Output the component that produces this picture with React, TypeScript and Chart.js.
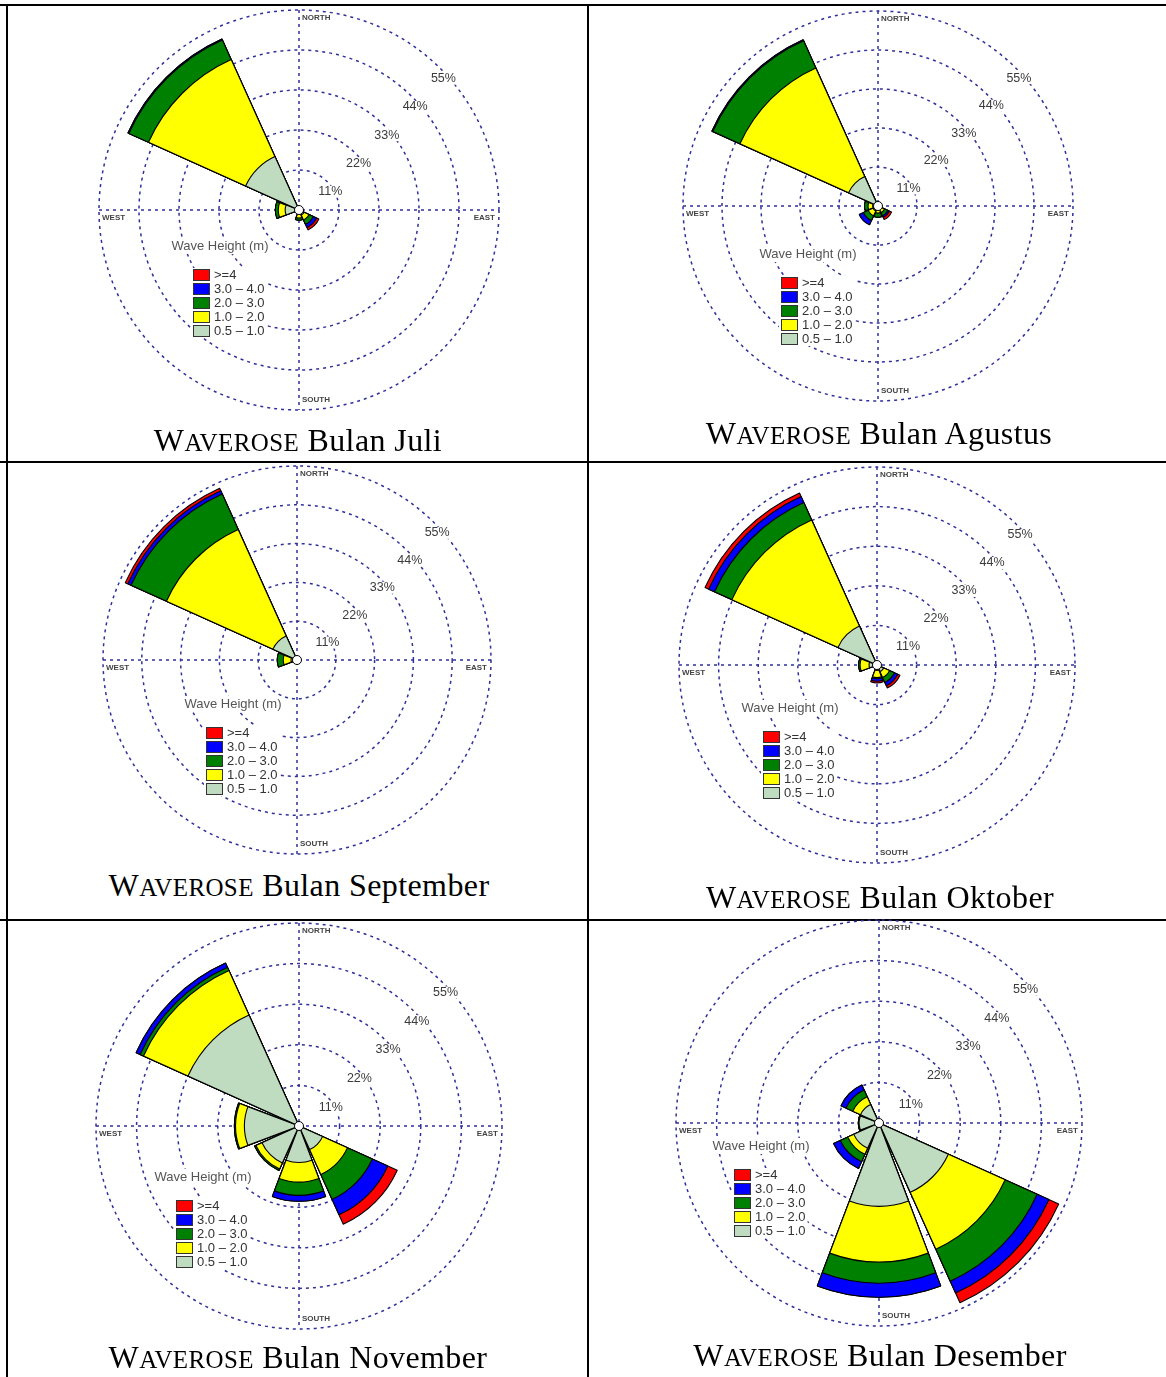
import React, { useEffect, useRef } from "react";
import { Chart, registerables } from "chart.js";

Chart.register(...registerables);

// ---------- data ----------
const DIRECTIONS = ["N", "NE", "E", "SE", "S", "SW", "W", "NW"];
const CLASS_LABELS = ["0.5 – 1.0", "1.0 – 2.0", "2.0 – 3.0", "3.0 – 4.0", ">=4"];
const CLASS_COLORS = ["#c0dcc0", "#ffff00", "#008000", "#0000ff", "#ff0000"];
const RING_TICKS = [11, 22, 33, 44, 55];
const RING_LABELS = ["11%", "22%", "33%", "44%", "55%"];
const COMPASS = ["NORTH", "EAST", "SOUTH", "WEST"];
const LEGEND_TITLE = "Wave Height (m)";

// frequencies (%) per wave-height class, direction order N, NE, E, SE, S, SW, W, NW
const juli05 = [0, 0, 0, 1.5, 1.2, 0, 3.8, 16.1];
const juli12 = [0, 0, 0, 1.5, 1.0, 0, 1.9, 29.3];
const juli23 = [0, 0, 0, 1.3, 0.6, 0, 0.8, 5.9];
const juli34 = [0, 0, 0, 1.0, 0, 0, 0, 0.3];
const juli4 = [0, 0, 0, 0.7, 0, 0, 0, 0];

const agustus05 = [0, 0, 0, 1.0, 1.0, 1.5, 1.5, 9.1];
const agustus12 = [0, 0, 0, 1.0, 1.0, 1.5, 1.3, 33.6];
const agustus23 = [0, 0, 0, 1.0, 1.2, 1.5, 1.0, 8.4];
const agustus34 = [0, 0, 0, 0.5, 0, 1.3, 0, 0.3];
const agustus4 = [0, 0, 0, 0.7, 0, 0, 0, 0];

const september05 = [0, 0, 0, 0, 0, 0, 1.7, 7.5];
const september12 = [0, 0, 0, 0, 0, 0, 2.2, 33.1];
const september23 = [0, 0, 0, 0, 0, 0, 1.7, 11.0];
const september34 = [0, 0, 0, 0, 0, 0, 0, 1.0];
const september4 = [0, 0, 0, 0, 0, 0, 0, 0.8];

const oktober05 = [0, 0, 0, 2.0, 1.5, 0, 2.2, 11.9];
const oktober12 = [0, 0, 0, 1.8, 2.0, 0, 2.5, 32.3];
const oktober23 = [0, 0, 0, 1.5, 0.3, 0, 0.4, 5.3];
const oktober34 = [0, 0, 0, 1.0, 0.7, 0, 0, 1.8];
const oktober4 = [0, 0, 0, 0.7, 0.5, 0, 0, 1.1];

const november05 = [0, 0, 0, 7.0, 9.9, 11.0, 14.8, 33.0];
const november12 = [0, 0, 0, 7.4, 5.3, 1.8, 2.4, 13.2];
const november23 = [0, 0, 0, 7.4, 3.6, 0.4, 0.3, 1.0];
const november34 = [0, 0, 0, 4.6, 1.6, 0, 0, 1.2];
const november4 = [0, 0, 0, 2.8, 0, 0, 0, 0];

const desember05 = [0, 0, 0, 20.6, 22.6, 7.5, 5.4, 5.5];
const desember12 = [0, 0, 0, 16.9, 15.1, 1.8, 0.2, 2.3];
const desember23 = [0, 0, 0, 9.5, 5.7, 2.2, 0, 2.0];
const desember34 = [0, 0, 0, 3.5, 3.8, 2.0, 0, 1.5];
const desember4 = [0, 0, 0, 2.9, 0, 0, 0, 0];

// ---------- layout ----------
type Month = {
  name: string;
  cx: number;
  cy: number;
  R: number;
  wh: [number, number];
  cap: [number, number];
  classes: number[][];
};

const MONTHS: Month[] = [
  { name: "Juli", cx: 299, cy: 210, R: 200, wh: [-79, 36], cap: [298, 440], classes: [juli05, juli12, juli23, juli34, juli4] },
  { name: "Agustus", cx: 878, cy: 206, R: 195, wh: [-70, 48], cap: [879, 433], classes: [agustus05, agustus12, agustus23, agustus34, agustus4] },
  { name: "September", cx: 297, cy: 660, R: 194, wh: [-64, 44], cap: [299, 885], classes: [september05, september12, september23, september34, september4] },
  { name: "Oktober", cx: 877, cy: 665, R: 198, wh: [-87, 43], cap: [880, 897], classes: [oktober05, oktober12, oktober23, oktober34, oktober4] },
  { name: "November", cx: 299, cy: 1126, R: 203, wh: [-96, 51], cap: [298, 1357], classes: [november05, november12, november23, november34, november4] },
  { name: "Desember", cx: 879, cy: 1123, R: 203, wh: [-118, 23], cap: [880, 1355], classes: [desember05, desember12, desember23, desember34, desember4] },
];

const PAD = 10;
const PETAL = 41.5;
const GAP = 3.5;
const GRID = "#30309a";
const DASH = [3, 4];
const SANS = "Arial, 'Liberation Sans', sans-serif";

function makeDecor(wh: [number, number]) {
  return {
    id: "roseDecor",
    beforeDatasetsDraw(chart: any) {
      const s = chart.scales.r;
      const ctx = chart.ctx;
      const cx = s.xCenter;
      const cy = s.yCenter;
      const R = s.drawingArea;
      ctx.save();
      ctx.strokeStyle = GRID;
      ctx.lineWidth = 1.5;
      ctx.setLineDash(DASH);
      ctx.beginPath();
      ctx.moveTo(cx, cy - R);
      ctx.lineTo(cx, cy + R);
      ctx.moveTo(cx - R, cy);
      ctx.lineTo(cx + R, cy);
      ctx.stroke();
      ctx.restore();
    },
    afterDatasetsDraw(chart: any) {
      const s = chart.scales.r;
      const ctx = chart.ctx;
      const cx = s.xCenter;
      const cy = s.yCenter;
      const R = s.drawingArea;
      ctx.save();
      // calm circle
      ctx.beginPath();
      ctx.arc(cx, cy, 4.5, 0, Math.PI * 2);
      ctx.fillStyle = "#fff";
      ctx.fill();
      ctx.lineWidth = 1;
      ctx.strokeStyle = "#000";
      ctx.stroke();

      // ring labels
      ctx.font = `12.5px ${SANS}`;
      ctx.textAlign = "center";
      ctx.textBaseline = "middle";
      RING_TICKS.forEach((v, i) => {
        const r = s.getDistanceFromCenterForValue(v);
        const x = cx + r * Math.SQRT1_2 + 3;
        const y = cy - r * Math.SQRT1_2 + 10;
        const w = ctx.measureText(RING_LABELS[i]).width;
        ctx.fillStyle = "#fff";
        ctx.fillRect(x - w / 2 - 1, y - 6, w + 2, 12);
        ctx.fillStyle = "#3a3a3a";
        ctx.fillText(RING_LABELS[i], x, y);
      });

      // compass labels
      ctx.font = `bold 8px ${SANS}`;
      ctx.fillStyle = "#444";
      ctx.textAlign = "left";
      ctx.fillText(COMPASS[0], cx + 3, cy - R + 8);
      ctx.fillText(COMPASS[2], cx + 3, cy + R - 10);
      ctx.fillText(COMPASS[3], cx - R + 3, cy + 8);
      ctx.textAlign = "right";
      ctx.fillText(COMPASS[1], cx + R - 4, cy + 8);

      // legend title
      const wx = cx + wh[0];
      const wy = cy + wh[1];
      ctx.font = `13px ${SANS}`;
      const tw = ctx.measureText(LEGEND_TITLE).width;
      ctx.fillStyle = "#fff";
      ctx.fillRect(wx - tw / 2 - 1, wy - 8, tw + 2, 16);
      ctx.fillStyle = "#555";
      ctx.textAlign = "center";
      ctx.fillText(LEGEND_TITLE, wx, wy);

      // legend items
      const boxLeft = wx - 27;
      const ds = chart.data.datasets;
      let maxW = 0;
      ds.forEach((d: any) => {
        maxW = Math.max(maxW, ctx.measureText(d.label).width);
      });
      const top = wy + 29 - 7;
      ctx.fillStyle = "#fff";
      ctx.fillRect(boxLeft - 2, top, 21 + maxW + 4, 14 * ds.length);
      ctx.textAlign = "left";
      for (let k = 0; k < ds.length; k++) {
        const d = ds[ds.length - 1 - k];
        const y = wy + 29 + 14 * k;
        ctx.fillStyle = d.backgroundColor;
        ctx.fillRect(boxLeft, y - 5.5, 16, 11);
        ctx.strokeStyle = "#333";
        ctx.lineWidth = 1;
        ctx.strokeRect(boxLeft + 0.5, y - 5.5, 16, 11);
        ctx.fillStyle = "#333";
        ctx.fillText(d.label, boxLeft + 21, y + 0.5);
      }
      ctx.restore();
    },
  };
}

function Rose({ m }: { m: Month }) {
  const ref = useRef<HTMLCanvasElement>(null);
  const size = 2 * m.R + 2 * PAD;
  useEffect(() => {
    if (!ref.current) return;
    const labels = DIRECTIONS.flatMap((d) => [d, ""]);
    const datasets = CLASS_LABELS.map((label, ci) => {
      const cum = DIRECTIONS.map((_, di) =>
        m.classes.slice(0, ci + 1).reduce((acc, arr) => acc + arr[di], 0)
      );
      return {
        label,
        data: cum.flatMap((v) => [v, 0]),
        backgroundColor: CLASS_COLORS[ci],
        borderColor: "#000",
        borderWidth: (c: any) => (c.dataIndex % 2 === 0 && c.raw > 0 ? 1.1 : 0),
        angle: (c: any) => (c.dataIndex % 2 === 0 ? PETAL : GAP),
        order: ci,
      };
    });
    const chart = new Chart(ref.current, {
      type: "polarArea",
      data: { labels, datasets: datasets as any },
      options: {
        responsive: false,
        animation: false,
        events: [],
        layout: { padding: PAD },
        plugins: { legend: { display: false }, tooltip: { enabled: false } },
        scales: {
          r: {
            min: 0,
            max: 55,
            startAngle: -PETAL / 2,
            ticks: { display: false, stepSize: 11 },
            grid: { circular: true, color: GRID, lineWidth: 1.5 },
            border: { dash: DASH },
            angleLines: { display: false },
            pointLabels: { display: false },
          } as any,
        },
      } as any,
      plugins: [makeDecor(m.wh)],
    });
    return () => chart.destroy();
  }, []);
  return (
    <canvas
      ref={ref}
      width={size}
      height={size}
      style={{ position: "absolute", left: m.cx - m.R - PAD, top: m.cy - m.R - PAD }}
    />
  );
}

function Caption({ m }: { m: Month }) {
  return (
    <div
      style={{
        position: "absolute",
        left: m.cap[0] - 290,
        width: 580,
        top: m.cap[1] - 20,
        height: 40,
        lineHeight: "40px",
        textAlign: "center",
        fontFamily: "'Liberation Serif', 'DejaVu Serif', serif",
        fontSize: 32,
        letterSpacing: "0.4px",
        color: "#000",
        whiteSpace: "nowrap",
      }}
    >
      W<span style={{ fontSize: "0.78em" }}>AVEROSE</span> Bulan {m.name}
    </div>
  );
}

const line = (l: number, t: number, w: number, h: number) => (
  <div style={{ position: "absolute", left: l, top: t, width: w, height: h, background: "#000" }} />
);

export default function App() {
  return (
    <div
      style={{
        position: "absolute",
        left: 0,
        top: 0,
        width: 1166,
        height: 1377,
        background: "#fff",
        overflow: "hidden",
      }}
    >
      {line(0, 4, 1166, 2)}
      {line(0, 461, 1166, 2)}
      {line(0, 919, 1166, 2)}
      {line(6, 4, 2, 1373)}
      {line(587, 4, 2, 1373)}
      {MONTHS.map((m) => (
        <Rose key={m.name} m={m} />
      ))}
      {MONTHS.map((m) => (
        <Caption key={"c" + m.name} m={m} />
      ))}
    </div>
  );
}
